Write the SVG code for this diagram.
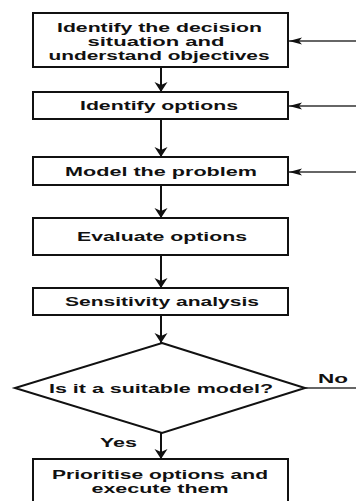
<svg xmlns="http://www.w3.org/2000/svg" width="356" height="501" viewBox="0 0 356 501">
<style>
.box{fill:#fff;stroke:#111;stroke-width:2}
.t{font-family:"Liberation Sans",Arial,sans-serif;font-weight:bold;font-size:12px;fill:#111;text-anchor:middle}
.l{font-family:"Liberation Sans",Arial,sans-serif;font-weight:bold;font-size:12px;fill:#111}
.c{stroke:#111;stroke-width:2;fill:none}
.fb{stroke:#333;stroke-width:1.3;fill:none}
</style>
<defs>
<marker id="ah" markerUnits="userSpaceOnUse" markerWidth="14" markerHeight="16" viewBox="-10 -8 12 16" refX="0" refY="0" orient="auto">
<path d="M0,0 L-10,-6.5 L-7,0 L-10,6.5 Z" fill="#111"/>
</marker>
<marker id="ahs" markerUnits="userSpaceOnUse" markerWidth="16" markerHeight="10" viewBox="-14 -5 16 10" refX="0" refY="0" orient="auto">
<path d="M0,0 L-13,-3.5 L-10,0 L-13,3.5 Z" fill="#111"/>
</marker>
</defs>
<rect width="356" height="501" fill="#fff"/>
<g id="connectors">
<line class="c" x1="161" y1="67" x2="161" y2="92" marker-end="url(#ah)"/>
<line class="c" x1="161" y1="119" x2="161" y2="157" marker-end="url(#ah)"/>
<line class="c" x1="161" y1="185" x2="161" y2="218" marker-end="url(#ah)"/>
<line class="c" x1="161" y1="255" x2="161" y2="288" marker-end="url(#ah)"/>
<line class="c" x1="161" y1="315" x2="161" y2="343" marker-end="url(#ah)"/>
<line class="c" x1="161" y1="433" x2="161" y2="459" marker-end="url(#ah)"/>
<line class="fb" x1="356" y1="41" x2="289" y2="41" marker-end="url(#ahs)"/>
<line class="fb" x1="356" y1="106" x2="289" y2="106" marker-end="url(#ahs)"/>
<line class="fb" x1="356" y1="172" x2="289" y2="172" marker-end="url(#ahs)"/>
<line class="fb" x1="305" y1="388" x2="356" y2="388"/>
<text class="l" x="318" y="383" textLength="30" lengthAdjust="spacingAndGlyphs">No</text>
<text class="l" x="100" y="447" textLength="37" lengthAdjust="spacingAndGlyphs">Yes</text>
</g>
<g id="n1">
<rect class="box" x="33" y="13" width="255" height="54"/>
<text class="t" x="159.5" y="32" textLength="205" lengthAdjust="spacingAndGlyphs">Identify the decision</text>
<text class="t" x="156" y="46" textLength="137" lengthAdjust="spacingAndGlyphs">situation and</text>
<text class="t" x="159" y="59.5" textLength="221" lengthAdjust="spacingAndGlyphs">understand objectives</text>
</g>
<g id="n2">
<rect class="box" x="33" y="92" width="255" height="27"/>
<text class="t" x="159" y="110" textLength="158" lengthAdjust="spacingAndGlyphs">Identify options</text>
</g>
<g id="n3">
<rect class="box" x="33" y="157" width="255" height="28"/>
<text class="t" x="161" y="176" textLength="192" lengthAdjust="spacingAndGlyphs">Model the problem</text>
</g>
<g id="n4">
<rect class="box" x="33" y="218" width="255" height="37"/>
<text class="t" x="162" y="241" textLength="170" lengthAdjust="spacingAndGlyphs">Evaluate options</text>
</g>
<g id="n5">
<rect class="box" x="33" y="288" width="255" height="27"/>
<text class="t" x="162" y="306" textLength="194" lengthAdjust="spacingAndGlyphs">Sensitivity analysis</text>
</g>
<g id="n6">
<polygon class="box" points="162,343 305,388 162,433 15,388"/>
<text class="t" x="161" y="393" textLength="224" lengthAdjust="spacingAndGlyphs">Is it a suitable model?</text>
</g>
<g id="n7">
<rect class="box" x="33" y="459" width="255" height="50"/>
<text class="t" x="160" y="479" textLength="216" lengthAdjust="spacingAndGlyphs">Prioritise options and</text>
<text class="t" x="160" y="493" textLength="137" lengthAdjust="spacingAndGlyphs">execute them</text>
</g>
</svg>
